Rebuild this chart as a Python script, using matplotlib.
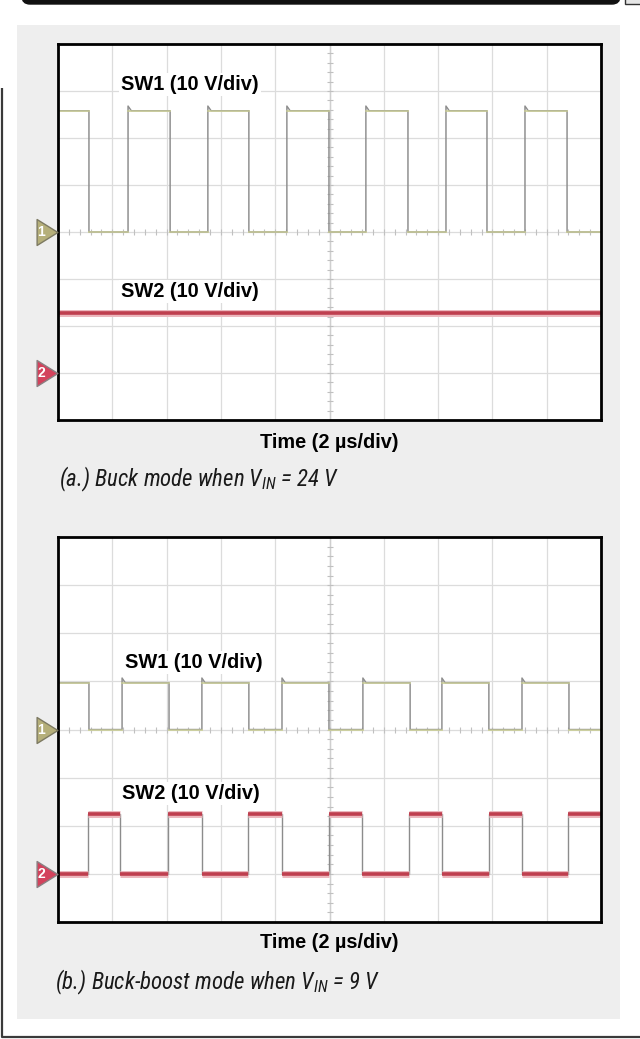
import numpy as np
import matplotlib
matplotlib.use("Agg")
import matplotlib.pyplot as plt
from matplotlib.patches import Rectangle, FancyBboxPatch
from matplotlib.path import Path
from matplotlib import transforms, font_manager

# ---------------- data ----------------
n_xdiv = 10          # horizontal divisions (2 us/div)
n_ydiv = 8           # vertical divisions (10 V/div)
us_per_div = 2.0
v_per_div = 10.0
ch1_ground_div = 4   # channel-1 reference level (divisions from bottom)
ch2_ground_div = 1   # channel-2 reference level

# (a) buck mode, VIN = 24 V
a_sw1_edges_us = [1.14, 2.58, 4.13, 5.52, 7.03, 8.43, 9.98, 11.34, 12.89, 14.29, 15.80, 17.20, 18.75]
a_sw1_start_high = True
a_sw1_high_v = 25.8
a_sw2_level_v = 12.8

# (b) buck-boost mode, VIN = 9 V
b_sw1_edges_us = [1.14, 2.36, 4.09, 5.30, 7.03, 8.25, 9.98, 11.23, 12.97, 14.14, 15.87, 17.09, 18.82]
b_sw1_start_high = True
b_sw1_high_v = 9.7
b_sw2_edges_us = [1.10, 2.28, 4.05, 5.30, 7.00, 8.25, 9.98, 11.20, 12.93, 14.14, 15.87, 17.09, 18.78]
b_sw2_start_high = False
b_sw2_high_v = 12.5

sw1_overshoot_v = 1.0

labels_sw = ["SW1 (10 V/div)", "SW2 (10 V/div)"]
xlabel = "Time (2 \u00b5s/div)"
caption_a = "(a.) Buck mode when $V_{IN}$ = 24 V"
caption_b = "(b.) Buck-boost mode when $V_{IN}$ = 9 V"

# ---------------- fonts ----------------
names = {f.name for f in font_manager.fontManager.ttflist}
cap_family = next((n for n in ["Liberation Sans Narrow", "Roboto Condensed",
                               "Open Sans Condensed", "Liberation Sans"] if n in names),
                  "DejaVu Sans")
plt.rcParams["font.family"] = ["Liberation Sans", "DejaVu Sans"]
plt.rcParams["mathtext.fontset"] = "custom"
plt.rcParams["mathtext.it"] = f"{cap_family}:italic"
plt.rcParams["mathtext.rm"] = f"{cap_family}:italic"

W, H = 640, 1039
fig = plt.figure(figsize=(W / 100, H / 100), dpi=100)
fig.patch.set_facecolor("white")

# background / frame in pixel coordinates
bg = fig.add_axes([0, 0, 1, 1], zorder=-5)
bg.set_xlim(0, W)
bg.set_ylim(H, 0)
bg.axis("off")
bg.add_patch(Rectangle((17, 25), 603, 994, fc="#eeeeee", ec="none"))
bg.add_patch(FancyBboxPatch((22, -20), 598, 24, boxstyle="round,pad=0,rounding_size=8",
                            fc="#111111", ec="#111111"))
bg.add_patch(Rectangle((625, -5), 20, 8.5, fc="#e6e6e6", ec="#333333", lw=1))
bg.plot([2, 2, 640], [88, 1037, 1037], color="#3a3a3a", lw=1.6, solid_capstyle="butt")


def square(edges, start_high, vhigh, overshoot=0.0, t_end=20.0):
    level = start_high
    xs = [0.0]
    ys = [vhigh if level else 0.0]
    for t in edges:
        xs.append(t)
        ys.append(vhigh if level else 0.0)
        level = not level
        new = vhigh if level else 0.0
        if level and overshoot:
            xs += [t, t + 0.12]
            ys += [new + overshoot, new]
        else:
            xs.append(t)
            ys.append(new)
    xs.append(t_end)
    ys.append(vhigh if level else 0.0)
    return np.array(xs), np.array(ys)


def flats(edges, start_high, vhigh, t_end=20.0):
    bounds = [0.0] + list(edges) + [t_end]
    level = start_high
    xs, ys = [], []
    for a, b in zip(bounds[:-1], bounds[1:]):
        v = vhigh if level else 0.0
        xs += [a, b, np.nan]
        ys += [v, v, np.nan]
        level = not level
    return np.array(xs), np.array(ys)


def setup_axes(rect):
    ax = fig.add_axes(rect)
    ax.set_xlim(0, n_xdiv * us_per_div)
    ax.set_ylim(0, n_ydiv * v_per_div)
    ax.set_facecolor("white")
    ax.set_xticks([])
    ax.set_yticks([])
    for s in ax.spines.values():
        s.set_linewidth(2.0)
        s.set_color("black")
        s.set_zorder(10)
    gcol = "#dcdcdc"
    for i in range(1, n_xdiv):
        ax.axvline(i * us_per_div, color=gcol, lw=0.9, zorder=0)
    for j in range(1, n_ydiv):
        ax.axhline(j * v_per_div, color=gcol, lw=0.9, zorder=0)
    # centre graticule ticks
    xc = n_xdiv * us_per_div / 2
    yc = n_ydiv * v_per_div / 2
    ax.axvline(xc, color="#cfcfcf", lw=1.0, zorder=0)
    yt = np.arange(0, n_ydiv * v_per_div + 0.01, v_per_div / 5)
    xt = np.arange(0, n_xdiv * us_per_div + 0.01, us_per_div / 5)
    ax.plot(np.full_like(yt, xc), yt, ls="none", marker="_", ms=4, color="#c0c0c0", mew=0.8, zorder=0)
    ax.plot(xt, np.full_like(xt, yc), ls="none", marker="|", ms=4, color="#c0c0c0", mew=0.8, zorder=0)
    return ax


tri = Path([(-0.8, -1.0), (0.8, 0.0), (-0.8, 1.0), (-0.8, -1.0)],
           [Path.MOVETO, Path.LINETO, Path.LINETO, Path.CLOSEPOLY])


def channel_marker(ax, level, num, fc, ec):
    tr = transforms.blended_transform_factory(ax.transAxes, ax.transData)
    ax.plot([-0.0195], [level], marker=tri, ms=18.7, mfc=fc, mec=ec, mew=1.0,
            transform=tr, clip_on=False, zorder=12, ls="none")
    ax.text(-0.031, level, num, transform=tr, color="white", fontsize=10,
            fontweight="bold", ha="center", va="center", zorder=13, clip_on=False)


def draw_sw1(ax, edges, start_high, vhigh):
    off = ch1_ground_div * v_per_div
    x, y = square(edges, start_high, vhigh, overshoot=sw1_overshoot_v)
    ax.plot(x, y + off, color="#8e8e8e", lw=1.0, zorder=3)
    fx, fy = flats(edges, start_high, vhigh)
    ax.plot(fx, fy + off, color="#cdd09a", lw=1.4, zorder=4, alpha=0.9)
    ax.plot(x, y + off, color="#8e8e8e", lw=0.5, zorder=4, alpha=0.45)


def draw_sw2(ax, fx, fy, x=None, y=None):
    off = ch2_ground_div * v_per_div
    if x is not None:
        ax.plot(x, y + off, color="#8c8c8c", lw=1.0, zorder=3)
    ax.plot(fx, fy + off, color="#ecb7bd", lw=5.0, zorder=4, solid_capstyle="butt")
    ax.plot(fx, fy + off, color="#bf3f4f", lw=2.6, zorder=5, solid_capstyle="butt")


label_kw = dict(fontsize=14.4, fontweight="bold", color="black", ha="left", va="center",
                zorder=8, bbox=dict(fc="white", ec="none", pad=1.5))

# ---------------- panel (a) ----------------
axa = setup_axes([58 / W, 1 - 420 / H, 543 / W, 376 / H])
draw_sw1(axa, a_sw1_edges_us, a_sw1_start_high, a_sw1_high_v)
draw_sw2(axa, np.array([0.0, n_xdiv * us_per_div]), np.array([a_sw2_level_v, a_sw2_level_v]))
axa.text(0.116, 0.892, labels_sw[0], transform=axa.transAxes, **label_kw)
axa.text(0.116, 0.343, labels_sw[1], transform=axa.transAxes, **label_kw)
channel_marker(axa, ch1_ground_div * v_per_div, "1", "#b5af7a", "#7d7a62")
channel_marker(axa, ch2_ground_div * v_per_div, "2", "#d3425c", "#8a7f82")

# ---------------- panel (b) ----------------
axb = setup_axes([58 / W, 1 - 922 / H, 543 / W, 385 / H])
draw_sw1(axb, b_sw1_edges_us, b_sw1_start_high, b_sw1_high_v)
sx, sy = square(b_sw2_edges_us, b_sw2_start_high, b_sw2_high_v)
fx, fy = flats(b_sw2_edges_us, b_sw2_start_high, b_sw2_high_v)
draw_sw2(axb, fx, fy, sx, sy)
axb.text(0.123, 0.673, labels_sw[0], transform=axb.transAxes, **label_kw)
axb.text(0.118, 0.335, labels_sw[1], transform=axb.transAxes, **label_kw)
channel_marker(axb, ch1_ground_div * v_per_div, "1", "#b5af7a", "#7d7a62")
channel_marker(axb, ch2_ground_div * v_per_div, "2", "#d3425c", "#8a7f82")

# ---------------- labels ----------------
fig.text(329 / W, 1 - 442 / H, xlabel, fontsize=14.3, fontweight="bold", ha="center", va="center")
fig.text(329 / W, 1 - 942 / H, xlabel, fontsize=14.3, fontweight="bold", ha="center", va="center")
cap_kw = dict(fontsize=16.5, style="italic", family=[cap_family, "DejaVu Sans"], color="#1a1a1a",
              ha="left", va="center")
fig.text(59 / W, 1 - 479 / H, caption_a, **cap_kw)
fig.text(55 / W, 1 - 982 / H, caption_b, **cap_kw)

fig.savefig("out.png", dpi=100, facecolor=fig.get_facecolor())
